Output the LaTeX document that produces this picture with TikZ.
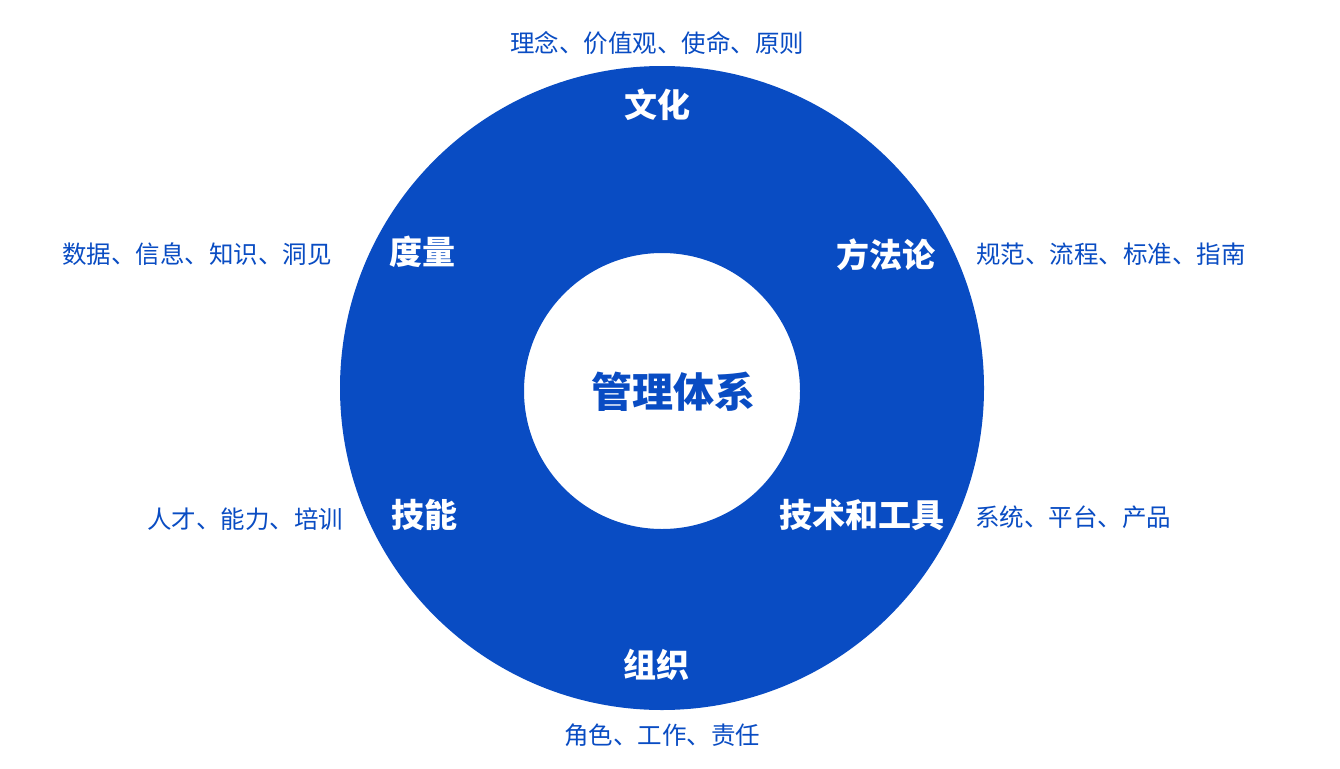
\documentclass[tikz,border=0pt]{standalone}
\usepackage{fontspec}
\setmainfont{Noto Sans CJK SC}
\definecolor{ringblue}{HTML}{094CC3}
\begin{document}
\begin{tikzpicture}[x=1pt,y=-1pt,
  small/.style={text=ringblue,font=\fontsize{24.5}{27}\selectfont,inner sep=0pt,anchor=center},
  big/.style={text=white,font=\fontsize{33}{36}\selectfont\bfseries,inner sep=0pt,anchor=center},
  title/.style={text=ringblue,font=\fontsize{41}{44}\selectfont\bfseries,inner sep=0pt,anchor=center}]
\useasboundingbox (0,0) rectangle (1340,768);
\fill[white] (0,0) rectangle (1340,768);
\fill[ringblue,even odd rule] (662,388) circle[radius=322] (662,391) circle[radius=138];
\node[title] (center) at (673,392) {管理体系};
\node[big] (wh) at (657,105) {文化};
\node[big] (dl) at (422,252) {度量};
\node[big] (ffl) at (886,255) {方法论};
\node[big] (jn) at (424,515) {技能};
\node[big] (jsgj) at (862,515) {技术和工具};
\node[big] (zz) at (656,665) {组织};
\node[small] (t1) at (657,43) {理念、价值观、使命、原则};
\node[small] (t2) at (197,254) {数据、信息、知识、洞见};
\node[small] (t3) at (1111,254) {规范、流程、标准、指南};
\node[small] (t4) at (245,519) {人才、能力、培训};
\node[small] (t5) at (1073,517) {系统、平台、产品};
\node[small] (t6) at (662,735) {角色、工作、责任};
\end{tikzpicture}
\end{document}
